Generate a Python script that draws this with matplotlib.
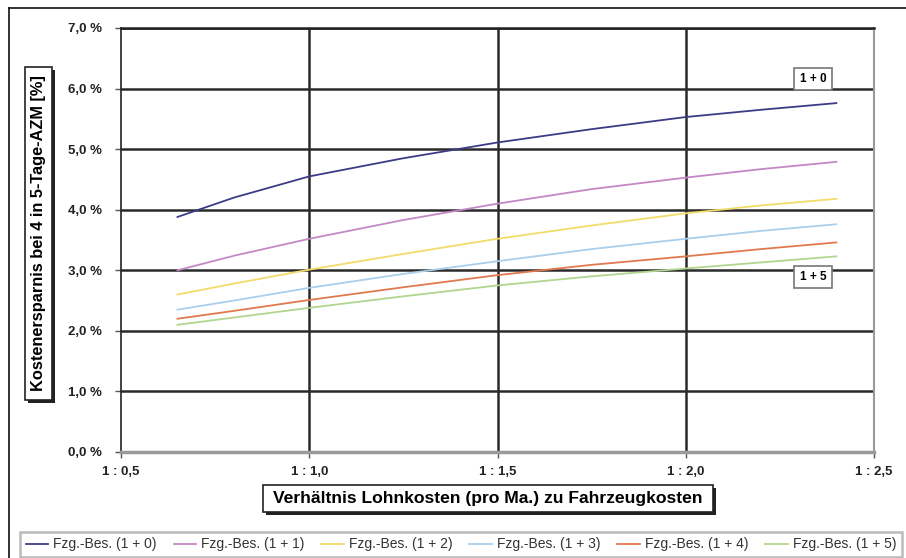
"""
Kostenersparnis bei 4 in 5-Tage-AZM je nach Fahrzeugbesetzung
"""
import matplotlib.pyplot as plt
from matplotlib.patches import Rectangle

plt.rcParams['font.family'] = ['Liberation Sans', 'DejaVu Sans']
plt.rcParams['font.weight'] = 'bold'

# Verhältnis Lohnkosten zu Fahrzeugkosten (1 : x)
ratio = [0.65, 0.8, 1.0, 1.25, 1.5, 1.75, 2.0, 2.2, 2.4]

# Kostenersparnis in % je Fahrzeugbesetzung
bes_1_0 = [3.88, 4.20, 4.55, 4.85, 5.11, 5.33, 5.53, 5.65, 5.76]
bes_1_1 = [3.00, 3.24, 3.52, 3.83, 4.10, 4.34, 4.53, 4.67, 4.79]
bes_1_2 = [2.60, 2.78, 3.01, 3.27, 3.52, 3.74, 3.94, 4.07, 4.18]
bes_1_3 = [2.35, 2.50, 2.71, 2.94, 3.15, 3.35, 3.52, 3.65, 3.76]
bes_1_4 = [2.20, 2.33, 2.51, 2.72, 2.92, 3.09, 3.23, 3.35, 3.46]
bes_1_5 = [2.10, 2.22, 2.38, 2.57, 2.75, 2.90, 3.03, 3.13, 3.23]

series = [bes_1_0, bes_1_1, bes_1_2, bes_1_3, bes_1_4, bes_1_5]
labels = ['Fzg.-Bes. (1 + 0)', 'Fzg.-Bes. (1 + 1)', 'Fzg.-Bes. (1 + 2)',
          'Fzg.-Bes. (1 + 3)', 'Fzg.-Bes. (1 + 4)', 'Fzg.-Bes. (1 + 5)']
colors = ['#3c3c86', '#c488c4', '#f2dc6a', '#a9cfec', '#e07a4e', '#b2d68e']

x_ticks = [0.5, 1.0, 1.5, 2.0, 2.5]
x_labels = ['1 : 0,5', '1 : 1,0', '1 : 1,5', '1 : 2,0', '1 : 2,5']
y_ticks = [0, 1, 2, 3, 4, 5, 6, 7]
y_labels = ['0,0 %', '1,0 %', '2,0 %', '3,0 %', '4,0 %', '5,0 %', '6,0 %', '7,0 %']

W, H = 906, 558
fig = plt.figure(figsize=(W / 100, H / 100), dpi=100)


def px_rect(x0, y0, x1, y1, **kw):
    # rechteck in pixeln (ursprung oben links)
    return Rectangle((x0 / W, 1 - y1 / H), (x1 - x0) / W, (y1 - y0) / H,
                     transform=fig.transFigure, **kw)


ax = fig.add_axes([121 / W, 1 - 452 / H, (874 - 121) / W, (452 - 28) / H])

# gitter in dunkelgrau, dick
for y in y_ticks[1:]:
    ax.axhline(y, color='#2a2a2a', lw=1.8, zorder=1)
for x in x_ticks[1:-1]:
    ax.axvline(x, color='#2a2a2a', lw=1.8, zorder=1)

for vals, lab, col in zip(series, labels, colors):
    ax.plot(ratio, vals, color=col, lw=1.3, label=lab, zorder=3)

ax.set_xlim(0.5, 2.5)
ax.set_ylim(0, 7)
ax.set_xticks(x_ticks)
ax.set_xticklabels(x_labels, fontsize=9.5, fontweight='bold', color='#222222')
ax.set_yticks(y_ticks)
ax.set_yticklabels(y_labels, fontsize=9.5, fontweight='bold', color='#222222')
ax.tick_params(axis='both', length=4, width=1, color='#555555')
ax.tick_params(axis='x', pad=6)
ax.tick_params(axis='y', pad=10)

ax.spines['left'].set_color('#222222')
ax.spines['left'].set_linewidth(1.2)
ax.spines['top'].set_color('#222222')
ax.spines['top'].set_linewidth(1.8)
ax.spines['bottom'].set_color('#9a9a9a')
ax.spines['bottom'].set_linewidth(2.5)
ax.spines['right'].set_color('#9a9a9a')
ax.spines['right'].set_linewidth(1.5)

# beschriftung der obersten und untersten kurve
box = dict(boxstyle='square,pad=0.45', fc='white', ec='#777777', lw=1.2)
ax.text(2.338, 6.16, '1 + 0', fontsize=8.5, fontweight='bold', ha='center',
        va='center', bbox=box, zorder=5)
ax.text(2.338, 2.89, '1 + 5', fontsize=8.5, fontweight='bold', ha='center',
        va='center', bbox=box, zorder=5)

# achsentitel in kästen mit schatten
fig.patches.append(px_rect(28, 70, 55, 403, fc='#222222', ec='none'))
fig.patches.append(px_rect(25, 67, 52, 400, fc='white', ec='#222222', lw=1.2))
fig.text(38.5 / W, 1 - 233.5 / H, 'Kostenersparnis bei 4 in 5-Tage-AZM [%]',
         rotation=90, fontsize=11.8, fontweight='bold', ha='center', va='center')

fig.patches.append(px_rect(266, 488, 716, 515, fc='#222222', ec='none'))
fig.patches.append(px_rect(263, 485, 713, 512, fc='white', ec='#222222', lw=1.2))
fig.text(488 / W, 1 - 498.5 / H, 'Verhältnis Lohnkosten (pro Ma.) zu Fahrzeugkosten',
         fontsize=12.6, fontweight='bold', ha='center', va='center')

# rahmen links/oben
fig.add_artist(plt.Line2D([9 / W, 9 / W], [0.0, 1 - 8 / H], transform=fig.transFigure,
                          color='#111111', lw=1.2))
fig.add_artist(plt.Line2D([9 / W, 1.0], [1 - 8 / H, 1 - 8 / H], transform=fig.transFigure,
                          color='#111111', lw=1.2))

leg = fig.legend(loc='lower left', bbox_to_anchor=(20 / W, 1 / H),
                 ncol=6, frameon=True, handlelength=1.6, handletextpad=0.4,
                 columnspacing=1.2, borderpad=0.4, borderaxespad=0,
                 fancybox=False, prop={'size': 10, 'weight': 'normal'})
leg.get_frame().set_edgecolor('#aaaaaa')
leg.get_frame().set_linewidth(1.8)
for t in leg.get_texts():
    t.set_color('#333333')

fig.savefig('out.png', dpi=100)
